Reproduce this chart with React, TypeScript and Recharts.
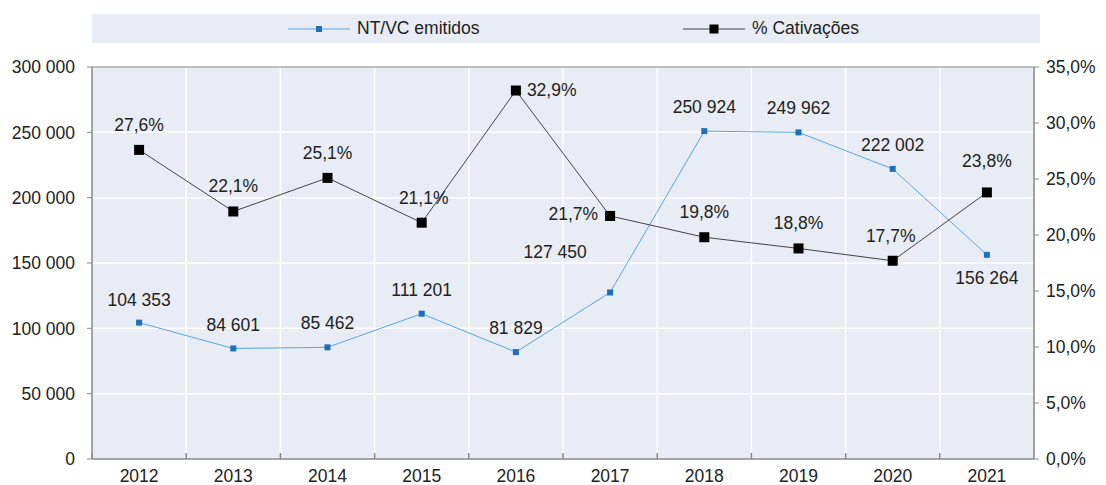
import React from 'react';
import { ComposedChart, Line, XAxis, YAxis, CartesianGrid, LabelList, ReferenceLine } from 'recharts';

const years = ['2012', '2013', '2014', '2015', '2016', '2017', '2018', '2019', '2020', '2021'];
const emitidos = [104353, 84601, 85462, 111201, 81829, 127450, 250924, 249962, 222002, 156264];
const cativacoes = [27.6, 22.1, 25.1, 21.1, 32.9, 21.7, 19.8, 18.8, 17.7, 23.8];
const leftTicks = [0, 50000, 100000, 150000, 200000, 250000, 300000];
const rightTicks = [0, 5, 10, 15, 20, 25, 30, 35];

const data = years.map((year, i) => ({ year, emitidos: emitidos[i], cativacoes: cativacoes[i] }));

// label placement per point: [dx, dy, anchor]
const bluePos: [number, number, string][] = [
  [0, -23, 'middle'], [0, -23, 'middle'], [0, -24, 'middle'], [0, -24, 'middle'], [0, -24, 'middle'],
  [-55, -40, 'middle'], [0, -24, 'middle'], [0, -24, 'middle'], [0, -24, 'middle'], [0, 23, 'middle'],
];
const blackPos: [number, number, string][] = [
  [0, -25, 'middle'], [0, -25, 'middle'], [0, -25, 'middle'], [2, -25, 'middle'], [11, -1, 'start'],
  [-12, -2, 'end'], [0, -25, 'middle'], [0, -25, 'middle'], [-2, -25, 'middle'], [0, -31, 'middle'],
];

const FONT = '"Liberation Sans", Arial, sans-serif';
const TEXT = '#222';
const FS = 17.5;

const fmtNum = (v: number) => String(v).replace(/\B(?=(\d{3})+(?!\d))/g, ' ');
const fmtPct = (v: number) => v.toFixed(1).replace('.', ',') + '%';

const makeLabel = (pos: [number, number, string][], fmt: (v: number) => string) => (props: any) => {
  const { x, y, value, index } = props;
  const [dx, dy, anchor] = pos[index] || [0, -24, 'middle'];
  return (
    <text x={x + dx} y={y + dy} textAnchor={anchor as any} dominantBaseline="central"
      fontSize={FS} fill={TEXT} fontFamily={FONT}>
      {fmt(value)}
    </text>
  );
};

const BlueDot = (props: any) => {
  const { cx, cy } = props;
  if (cx == null || cy == null) return null;
  return <rect x={cx - 3} y={cy - 3} width={6} height={6} fill="#1f70b8" />;
};

const BlackDot = (props: any) => {
  const { cx, cy } = props;
  if (cx == null || cy == null) return null;
  return <rect x={cx - 5} y={cy - 5} width={10} height={10} fill="#000" />;
};

const XTick = (props: any) => {
  const { x, y, payload } = props;
  const half = payload && payload.offset ? payload.offset : 47.1;
  return (
    <g>
      <line x1={x - half} x2={x - half} y1={y - 17} y2={y - 11} stroke="#888" strokeWidth={1.5} />
      <text x={x} y={y} dy="0.71em" textAnchor="middle" fontSize={FS} fill={TEXT} fontFamily={FONT}>
        {payload.value}
      </text>
    </g>
  );
};

const LegendItem = ({ left, color, dotColor, size, label }: { left: number; color: string; dotColor: string; size: number; label: string }) => (
  <div style={{ position: 'absolute', left, top: 0, height: 29, display: 'flex', alignItems: 'center' }}>
    <svg width={62} height={12}>
      <line x1={0} x2={62} y1={6} y2={6} stroke={color} strokeWidth={1} />
      <rect x={31 - size / 2} y={6 - size / 2} width={size} height={size} fill={dotColor} />
    </svg>
    <span style={{ marginLeft: 7, fontSize: FS, color: TEXT, fontFamily: FONT, whiteSpace: 'nowrap' }}>{label}</span>
  </div>
);

const App: React.FC = () => {
  return (
    <div style={{ position: 'relative', width: 1090, height: 477, fontFamily: FONT }}>
      <div style={{ position: 'absolute', left: 84, top: 6, width: 948, height: 29, background: '#e8ecf4' }}>
        <LegendItem left={196} color="#5aa5dc" dotColor="#1f70b8" size={6} label="NT/VC emitidos" />
        <LegendItem left={591} color="#444" dotColor="#000" size={9} label="% Cativações" />
      </div>
      <div style={{ position: 'absolute', left: 84, top: 59, width: 942, height: 392, background: '#e8ecf4' }} />
      <div style={{ position: 'absolute', left: 0, top: 0 }}>
        <ComposedChart width={1090} height={477} data={data} margin={{ top: 59, right: 0, left: 0, bottom: 0 }}>
          <CartesianGrid
            yAxisId="left"
            stroke="#ffffff"
            strokeWidth={1.5}
            verticalCoordinatesGenerator={({ offset }: any) =>
              Array.from({ length: 9 }, (_, i) => offset.left + ((i + 1) * offset.width) / 10)
            }
          />
          <XAxis
            dataKey="year"
            scale="band"
            height={26}
            tickSize={0}
            tickMargin={11}
            tickLine={false}
            axisLine={{ stroke: '#888', strokeWidth: 1.5 }}
            tick={<XTick />}
            interval={0}
          />
          <YAxis
            yAxisId="left"
            width={84}
            domain={[0, 300000]}
            ticks={leftTicks}
            tickFormatter={fmtNum}
            tickSize={5}
            tickMargin={12}
            tickLine={{ stroke: '#888' }}
            axisLine={{ stroke: '#888', strokeWidth: 1.5 }}
            tick={{ fontSize: FS, fill: TEXT, fontFamily: FONT }}
          />
          <YAxis
            yAxisId="right"
            orientation="right"
            width={64}
            domain={[0, 35]}
            ticks={rightTicks}
            tickFormatter={fmtPct}
            tickSize={5}
            tickMargin={7}
            tickLine={{ stroke: '#888' }}
            axisLine={{ stroke: '#888', strokeWidth: 1.5 }}
            tick={{ fontSize: FS, fill: TEXT, fontFamily: FONT }}
          />
          <ReferenceLine yAxisId="left" y={300000} stroke="#aaa" strokeWidth={1.5} />
          <Line
            yAxisId="left"
            type="linear"
            dataKey="emitidos"
            stroke="#5aa5dc"
            strokeWidth={1}
            dot={<BlueDot />}
            activeDot={false}
            isAnimationActive={false}
          >
            <LabelList dataKey="emitidos" content={makeLabel(bluePos, fmtNum)} />
          </Line>
          <Line
            yAxisId="right"
            type="linear"
            dataKey="cativacoes"
            stroke="#444"
            strokeWidth={1}
            dot={<BlackDot />}
            activeDot={false}
            isAnimationActive={false}
          >
            <LabelList dataKey="cativacoes" content={makeLabel(blackPos, fmtPct)} />
          </Line>
        </ComposedChart>
      </div>
    </div>
  );
};

export default App;
